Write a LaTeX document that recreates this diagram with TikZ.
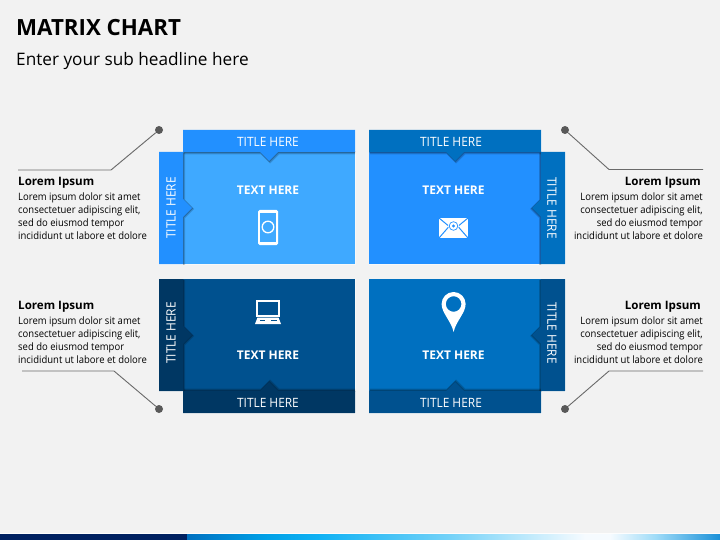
\documentclass[tikz,border=0pt]{standalone}
\usepackage{fontspec}
\setmainfont{Open Sans}
\newfontfamily\narrowf[FakeStretch=.93]{Open Sans}
\definecolor{bg}{HTML}{F2F2F2}
\definecolor{cA}{HTML}{3FA9FF}
\definecolor{cB}{HTML}{2290FF}
\definecolor{cC}{HTML}{0070C0}
\definecolor{cD}{HTML}{00518F}
\definecolor{cE}{HTML}{003763}
\definecolor{leader}{HTML}{6A6A6A}
\definecolor{dotc}{HTML}{595959}
\definecolor{navy}{HTML}{002060}
\definecolor{g0}{HTML}{0070C0}\definecolor{g1}{HTML}{00A0E6}\definecolor{g2}{HTML}{10B2F4}
\definecolor{g3}{HTML}{74D2F8}\definecolor{g4}{HTML}{F6FBFF}\definecolor{g5}{HTML}{A0DCF8}\definecolor{g6}{HTML}{1A90D8}
\tikzset{
  x=1pt,y=-1pt,
  rim/.style={line width=.8pt,draw=white,draw opacity=.5},
  shade1/.style={fill=black,fill opacity=.17},
  tabtitle/.style={text=white,font=\narrowf\fontsize{12.8}{14}\selectfont,inner sep=0pt},
  bodytitle/.style={text=white,font=\fontsize{12}{14}\selectfont\bfseries,inner sep=0pt},
  leadhead/.style={text=black,font=\fontsize{11.6}{14}\selectfont\bfseries,inner sep=0pt},
  leadbody/.style={text=black,font=\narrowf\fontsize{10.2}{13}\selectfont,inner sep=0pt},
  leadline/.style={draw=leader,line width=.9pt},
  leaddot/.style={circle,fill=dotc,minimum size=8pt,inner sep=0pt},
}
% shadow of a tab (with its notch) falling on the panel, in layers
\newcommand{\twoshadow}[4]{%
  \begin{scope}
  \clip #1;
  \fill[shade1,shift={(#3,#4)}] #2;
  \fill[shade1,shift={(#3*.55,#4*.55)}] #2;
  \fill[shade1,shift={(#3*.25,#4*.25)}] #2;
  \end{scope}}
\begin{document}
\begin{tikzpicture}
\useasboundingbox (0,0) rectangle (720,540);
\fill[bg] (0,0) rectangle (720,540);

% ---- headline
\node[anchor=west,inner sep=0pt,font=\fontsize{22.3}{26}\selectfont\bfseries] (head) at (16,28) {MATRIX CHART};
\node[anchor=west,inner sep=0pt,font=\fontsize{17.2}{20}\selectfont] (sub) at (16,61) {Enter your sub headline here};

% ---- outer rims
\draw[rim] (183,130)--(355,130)--(355,264)--(159,264)--(159,152)--(183,152)--cycle;
\draw[rim] (369,130)--(541,130)--(541,152)--(565,152)--(565,264)--(369,264)--cycle;
\draw[rim] (159,279)--(355,279)--(355,413)--(183,413)--(183,391)--(159,391)--cycle;
\draw[rim] (369,279)--(565,279)--(565,391)--(541,391)--(541,413)--(369,413)--cycle;

% ---- top left
\fill[cA] (183,152) rectangle (355,264);
\twoshadow{(183,152) rectangle (355,264)}{(183,130)--(355,130)--(355,152)--(278,152)--(269,161)--(260,152)--(183,152)--cycle}{1}{2.5}
\twoshadow{(183,152) rectangle (355,264)}{(159,152)--(183,152)--(183,199)--(192,208)--(183,217)--(183,264)--(159,264)--cycle}{2}{1}
\fill[cB] (183,130)--(355,130)--(355,152)--(278,152)--(269,161)--(260,152)--(183,152)--cycle;
\fill[cB] (159,152)--(183,152)--(183,199)--(192,208)--(183,217)--(183,264)--(159,264)--cycle;

% ---- top right
\fill[cB] (369,152) rectangle (541,264);
\twoshadow{(369,152) rectangle (541,264)}{(369,130)--(541,130)--(541,152)--(464,152)--(455,161)--(446,152)--(369,152)--cycle}{1}{2.5}
\twoshadow{(369,152) rectangle (541,264)}{(565,152)--(541,152)--(541,199)--(532,208)--(541,217)--(541,264)--(565,264)--cycle}{-2}{1}
\fill[cC] (369,130)--(541,130)--(541,152)--(464,152)--(455,161)--(446,152)--(369,152)--cycle;
\fill[cC] (565,152)--(541,152)--(541,199)--(532,208)--(541,217)--(541,264)--(565,264)--cycle;

% ---- bottom left
\fill[cD] (183,279) rectangle (355,391);
\twoshadow{(183,279) rectangle (355,391)}{(183,413)--(355,413)--(355,391)--(278,391)--(269,382)--(260,391)--(183,391)--cycle}{1}{-2.5}
\twoshadow{(183,279) rectangle (355,391)}{(159,279)--(183,279)--(183,326)--(192,335)--(183,344)--(183,391)--(159,391)--cycle}{2}{1}
\fill[cE] (183,413)--(355,413)--(355,391)--(278,391)--(269,382)--(260,391)--(183,391)--cycle;
\fill[cE] (159,279)--(183,279)--(183,326)--(192,335)--(183,344)--(183,391)--(159,391)--cycle;

% ---- bottom right
\fill[cC] (369,279) rectangle (541,391);
\twoshadow{(369,279) rectangle (541,391)}{(369,413)--(541,413)--(541,391)--(464,391)--(455,382)--(446,391)--(369,391)--cycle}{1}{-2.5}
\twoshadow{(369,279) rectangle (541,391)}{(565,279)--(541,279)--(541,326)--(532,335)--(541,344)--(541,391)--(565,391)--cycle}{-2}{1}
\fill[cD] (369,413)--(541,413)--(541,391)--(464,391)--(455,382)--(446,391)--(369,391)--cycle;
\fill[cD] (565,279)--(541,279)--(541,326)--(532,335)--(541,344)--(541,391)--(565,391)--cycle;

% ---- tab titles
\node[tabtitle] (t1) at (268,142) {TITLE HERE};
\node[tabtitle] (t2) at (451,142) {TITLE HERE};
\node[tabtitle] (t3) at (268,403) {TITLE HERE};
\node[tabtitle] (t4) at (451,403) {TITLE HERE};
\node[tabtitle,rotate=90] (s1) at (171,208) {TITLE HERE};
\node[tabtitle,rotate=-90] (s2) at (552,208) {TITLE HERE};
\node[tabtitle,rotate=90] (s3) at (171,333) {TITLE HERE};
\node[tabtitle,rotate=-90] (s4) at (552,333) {TITLE HERE};

% ---- panel texts
\node[bodytitle] (b1) at (268,190.7) {TEXT HERE};
\node[bodytitle] (b2) at (453.5,190.7) {TEXT HERE};
\node[bodytitle] (b3) at (268,355.7) {TEXT HERE};
\node[bodytitle] (b4) at (453.5,355.7) {TEXT HERE};

% ---- phone icon
\fill[white,rounded corners=1.5pt] (258,210) rectangle (278,245);
\fill[cA] (260,213) rectangle (276,241.5);
\draw[white,line width=1.3pt] (268,227) circle (5.8);

% ---- envelope icon
\fill[white] (439,218) rectangle (468,238);
\draw[cB,line width=1pt] (439,218)--(453.5,230)--(468,218);
\draw[cB,line width=1pt] (439,238)--(449,226.5) (468,238)--(458,226.5);
\fill[white] (453.5,226) circle (5.5);
\draw[cB,line width=.7pt] (453.5,226) circle (4.3);
\fill[cB] (453.5,226) circle (1.6);

% ---- laptop icon
\draw[white,line width=1.5pt] (256.8,300.8) rectangle (279.2,316);
\fill[white] (257.5,317.5)--(278.5,317.5)--(281,324)--(255,324)--cycle;
\fill[cD] (259.5,319.5) rectangle (276.5,321.2);
\fill[white] (265,319.5) rectangle (271,321.2);

% ---- pin icon
\fill[white,even odd rule] (441.6,304) arc[start angle=180,end angle=360,radius=12] .. controls (465.6,313) and (456,321) .. (453.6,332) .. controls (451.2,321) and (441.6,313) .. (441.6,304) -- cycle (453.6,304) circle (7.8);

% ---- leaders
\node[leaddot] (d1) at (159,130) {};
\node[leaddot] (d2) at (565,130) {};
\node[leaddot] (d3) at (159,409) {};
\node[leaddot] (d4) at (565,409) {};
\coordinate (k1) at (111,170); \coordinate (e1) at (18,170);
\coordinate (k2) at (609,169.5); \coordinate (e2) at (703,169.5);
\coordinate (k3) at (114,371); \coordinate (e3) at (22,371);
\coordinate (k4) at (609,371); \coordinate (e4) at (703,371);
\draw[leadline] (d1) -- (k1) -- (e1);
\draw[leadline] (d2) -- (k2) -- (e2);
\draw[leadline] (d3) -- (k3) -- (e3);
\draw[leadline] (d4) -- (k4) -- (e4);

% ---- side texts
\node[leadhead,anchor=west] (h1) at (18,183) {Lorem Ipsum};
\node[leadbody,anchor=north west,align=left] (p1) at (18,193) {Lorem ipsum dolor sit amet\\consectetuer adipiscing elit,\\sed do eiusmod tempor\\incididunt ut labore et dolore};
\node[leadhead,anchor=east] (h2) at (701,183) {Lorem Ipsum};
\node[leadbody,anchor=north east,align=right] (p2) at (703,193) {Lorem ipsum dolor sit amet\\consectetuer adipiscing elit,\\sed do eiusmod tempor\\incididunt ut labore et dolore};
\node[leadhead,anchor=west] (h3) at (18,307) {Lorem Ipsum};
\node[leadbody,anchor=north west,align=left] (p3) at (18,317) {Lorem ipsum dolor sit amet\\consectetuer adipiscing elit,\\sed do eiusmod tempor\\incididunt ut labore et dolore};
\node[leadhead,anchor=east] (h4) at (701,307) {Lorem Ipsum};
\node[leadbody,anchor=north east,align=right] (p4) at (703,317) {Lorem ipsum dolor sit amet\\consectetuer adipiscing elit,\\sed do eiusmod tempor\\incididunt ut labore et dolore};

% ---- bottom band
\fill[white!85!bg] (0,533) rectangle (720,534);
\fill[navy] (0,534) rectangle (187,540);
\fill[left color=g0,right color=g1] (187,534) rectangle (265,540);
\fill[left color=g1,right color=g2] (265,534) rectangle (320,540);
\fill[left color=g2,right color=g3] (320,534) rectangle (450,540);
\fill[left color=g3,right color=g4] (450,534) rectangle (585,540);
\fill[g4] (585,534) rectangle (610,540);
\fill[left color=g4,right color=g5] (610,534) rectangle (655,540);
\fill[left color=g5,right color=g6] (655,534) rectangle (720,540);
\end{tikzpicture}
\end{document}
